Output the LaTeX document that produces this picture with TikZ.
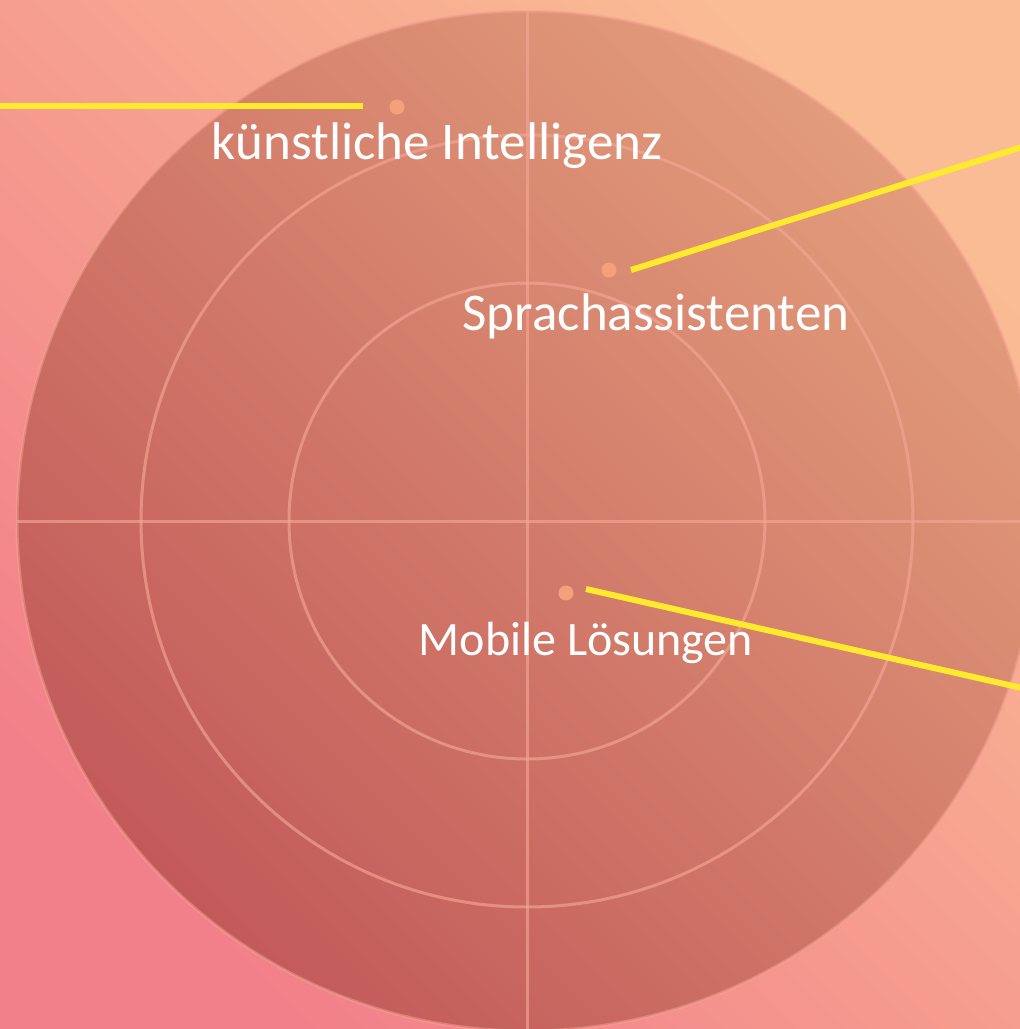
\documentclass[tikz,border=0pt]{standalone}
\usepackage{fontspec}
\setmainfont{Carlito}
\definecolor{bgTR}{HTML}{FABC94}
\definecolor{bgBL}{HTML}{F2808A}
\definecolor{cTR}{HTML}{E29C7B}
\definecolor{cBL}{HTML}{C25A5A}
\definecolor{ringc}{HTML}{F5A594}
\definecolor{dotc}{HTML}{F4A07A}
\definecolor{ylw}{HTML}{FFEA2E}
\begin{document}
\begin{tikzpicture}[x=1pt,y=-1pt,
  ring/.style={draw=ringc, draw opacity=0.65, line width=3pt},
  rim/.style={draw=ringc, draw opacity=0.5, line width=3pt},
  dotmark/.style={circle, fill=dotc, inner sep=0pt, minimum size=15pt},
  yline/.style={draw=ylw, line width=6pt},
  lbl/.style={text=white, font=\fontsize{53}{62}\selectfont, inner sep=0pt, anchor=base}]
\useasboundingbox (0,0) rectangle (1020,1029);
\clip (0,0) rectangle (1020,1029);
\shade[bottom color=bgBL, top color=bgTR, shading angle=-45] (0,0) rectangle (1020,1029);
\coordinate (c) at (527,521);
\shade[bottom color=cBL, top color=cTR, shading angle=-45] (c) circle (510pt);
\begin{scope}
  \clip (c) circle (510pt);
  \coordinate (hl) at (0,521);
  \coordinate (hr) at (1040,521);
  \coordinate (vt) at (527,0);
  \coordinate (vb) at (527,1040);
  \draw[ring] (hl) -- (hr);
  \draw[ring] (vt) -- (vb);
\end{scope}
\draw[ring] (c) circle (238pt);
\draw[ring] (c) circle (386pt);
\draw[rim] (c) circle (510pt);
% labels
\node[lbl] (t1) at (437,159) {künstliche Intelligenz};
\node[lbl] (t2) at (656,330) {Sprachassistenten};
\node[lbl, font=\fontsize{48}{58}\selectfont] (t3) at (586,655) {Mobile Lösungen};
% dots
\node[dotmark] (d1) at (397,107) {};
\node[dotmark] (d2) at (609,270) {};
\node[dotmark] (d3) at (566,593) {};
% yellow leaders
\coordinate (a1) at (0,106);
\coordinate (b1) at (363,106);
\coordinate (a2) at (631,270);
\coordinate (b2) at (1022,147);
\coordinate (a3) at (586,589);
\coordinate (b3) at (1022,688);
\draw[yline] (a1) -- (b1);
\draw[yline] (a2) -- (b2);
\draw[yline] (a3) -- (b3);
\end{tikzpicture}
\end{document}
